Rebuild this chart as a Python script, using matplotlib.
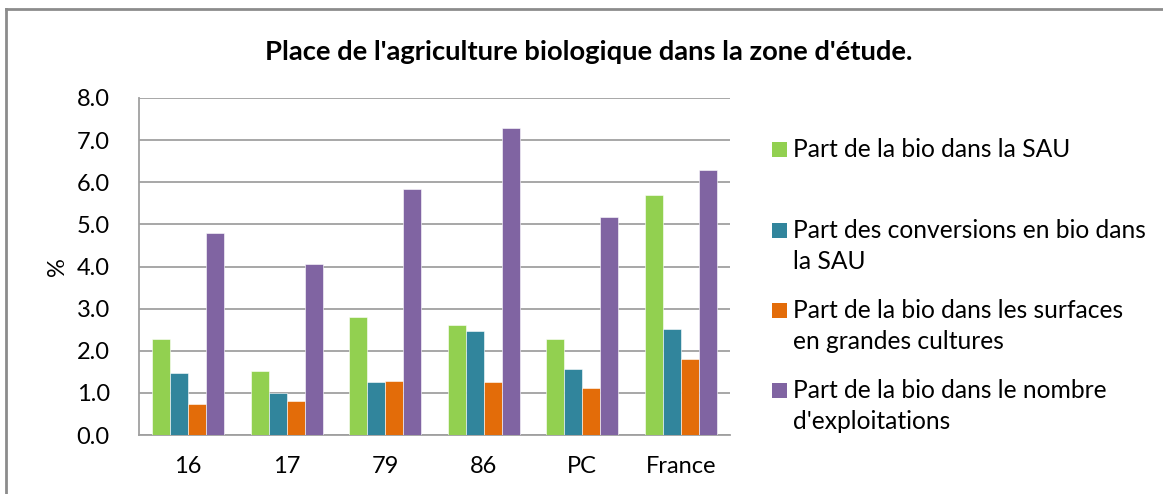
import numpy as np
import matplotlib
matplotlib.use("Agg")
import matplotlib.pyplot as plt
from matplotlib.patches import Rectangle
from matplotlib.lines import Line2D

# ==============================
# DONNEES
# ==============================

categories = ["16", "17", "79", "86", "PC", "France"]

bio_sau = [2.29, 1.53, 2.81, 2.62, 2.29, 5.70]
conversions_sau = [1.47, 1.00, 1.27, 2.48, 1.56, 2.51]
bio_grandes_cultures = [0.74, 0.81, 1.29, 1.27, 1.11, 1.81]
bio_exploitations = [4.79, 4.06, 5.85, 7.28, 5.18, 6.28]

series_labels = [
    "Part de la bio dans la SAU",
    "Part des conversions en bio dans\nla SAU",
    "Part de la bio dans les surfaces\nen grandes cultures",
    "Part de la bio dans le nombre\nd'exploitations",
]

yticks = [0, 1, 2, 3, 4, 5, 6, 7, 8]

# ==============================
# STYLE
# ==============================

colors = ["#92D050", "#31859C", "#E36C09", "#8064A2"]
FONT = ["Lato", "DejaVu Sans"]
plt.rcParams["font.family"] = FONT

W, H = 1163, 494
fig = plt.figure(figsize=(W / 100, H / 100), dpi=100)

ax = fig.add_axes([139 / W, 1 - 435 / H, 591 / W, 337 / H])

x = np.arange(len(categories))
bar_w = 0.183
all_series = [bio_sau, conversions_sau, bio_grandes_cultures, bio_exploitations]

for i, (vals, col) in enumerate(zip(all_series, colors)):
    offset = (i - 1.5) * bar_w
    ax.bar(x + offset, vals, width=bar_w, color=col, edgecolor="white",
           linewidth=0.4, zorder=3)

ax.set_xlim(-0.5, len(categories) - 0.5)
ax.set_ylim(0, 8)
ax.set_yticks(yticks)
ax.set_yticklabels([f"{v:.1f}" for v in yticks])
ax.set_xticks(x)
ax.set_xticklabels(categories)
ax.tick_params(axis="both", length=0, labelsize=17, colors="#000000")
ax.tick_params(axis="y", pad=21)
ax.tick_params(axis="x", pad=15)

ax.yaxis.grid(True, color="#A0A0A0", linewidth=1.3, zorder=0)
for side in ["top", "right"]:
    ax.spines[side].set_visible(False)
ax.spines["left"].set_color("#A0A0A0")
ax.spines["bottom"].set_color("#A0A0A0")
ax.spines["left"].set_linewidth(1.3)
ax.spines["bottom"].set_linewidth(1.3)

ax.set_ylabel("%", fontsize=17, labelpad=6)

fig.text(589 / W, 1 - 52 / H, "Place de l'agriculture biologique dans la zone d'étude.",
         ha="center", va="center", fontsize=19.7, fontweight="bold")

# legende manuelle (marqueur sur la premiere ligne, comme Excel)
leg_y = [149, 230, 310, 390]
for col, lab, yy in zip(colors, series_labels, leg_y):
    fig.patches.append(Rectangle((772 / W, 1 - (yy + 8) / H), 15 / W, 15 / H,
                                 transform=fig.transFigure, facecolor=col,
                                 edgecolor="none"))
    fig.text(793 / W, 1 - (yy - 11) / H, lab, ha="left", va="top",
             fontsize=17.7, linespacing=1.4)

# cadre du graphique
fig.add_artist(Line2D([6 / W, 6 / W], [0, 1 - 9 / H], transform=fig.transFigure,
                      color="#8C8C8C", linewidth=2))
fig.add_artist(Line2D([6 / W, 1], [1 - 9 / H, 1 - 9 / H], transform=fig.transFigure,
                      color="#8C8C8C", linewidth=2))

fig.savefig("out.png", dpi=100)
